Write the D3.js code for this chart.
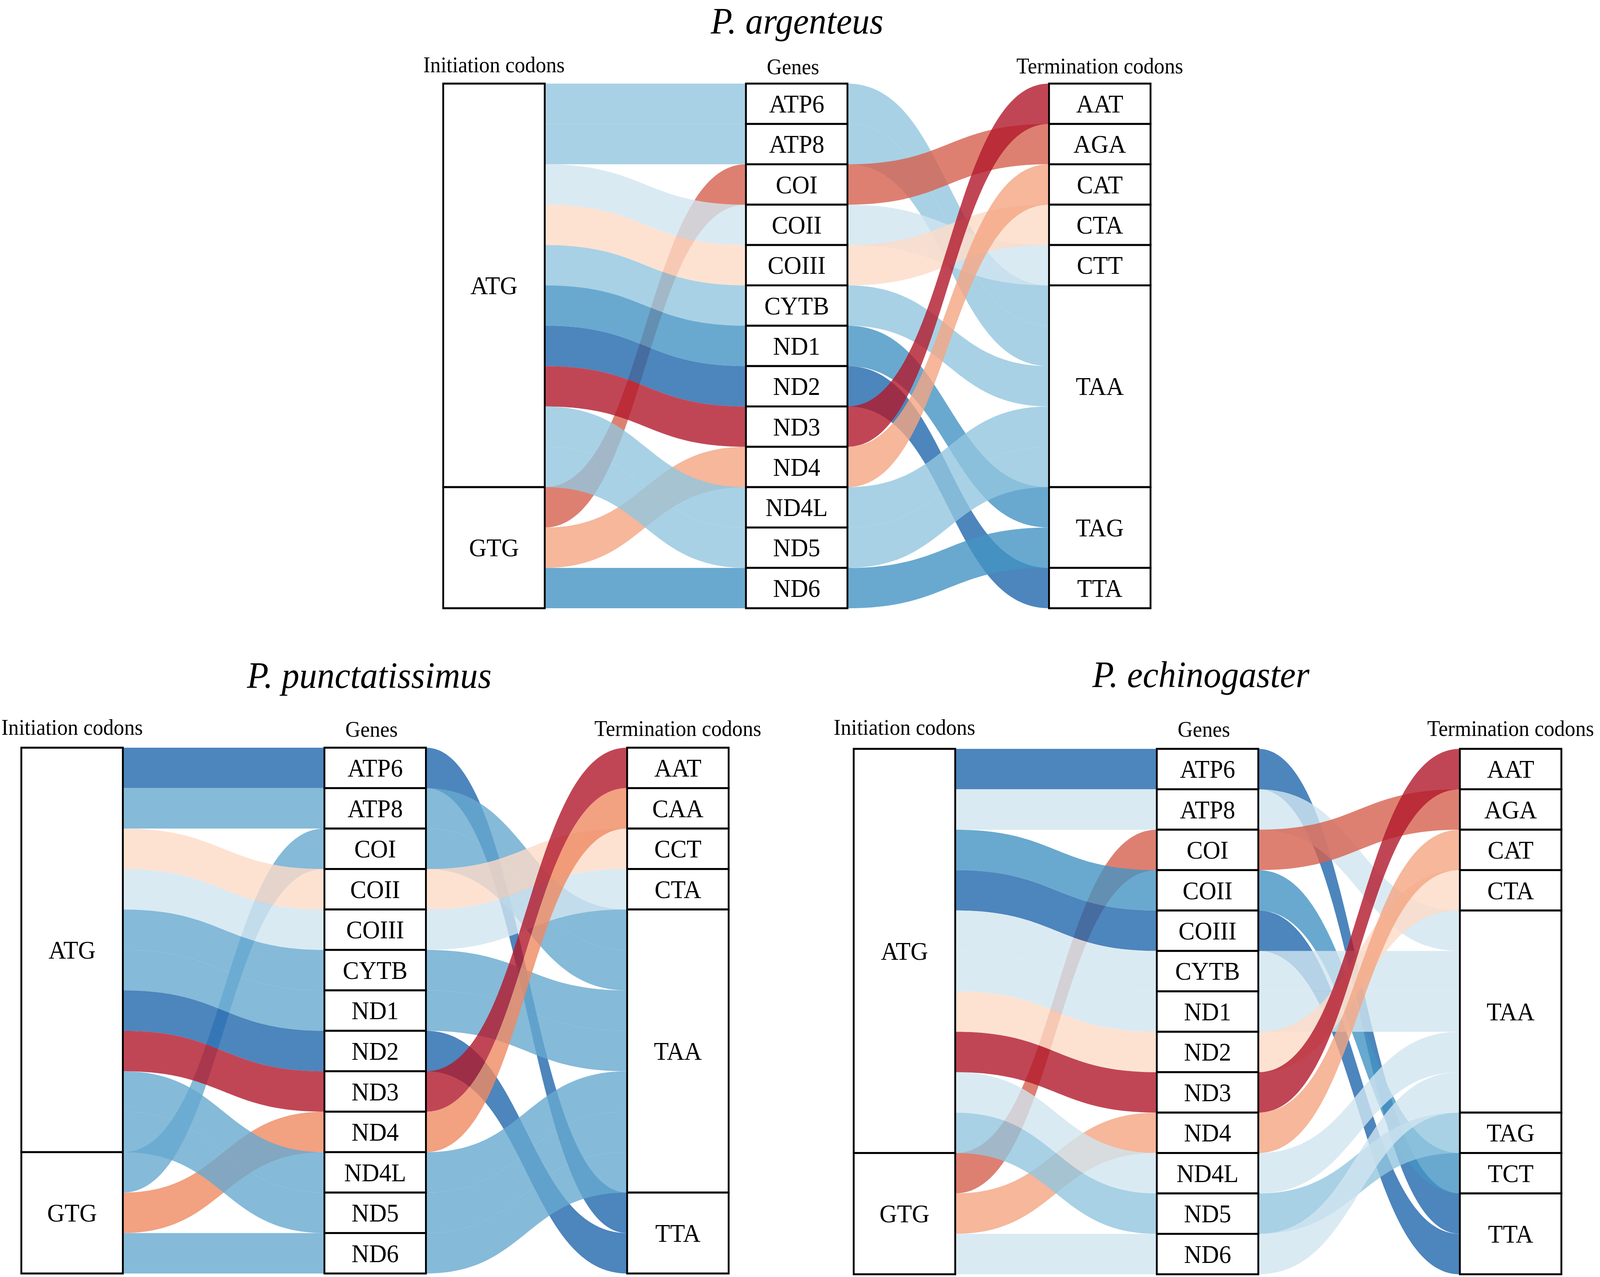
<!DOCTYPE html>
<html>
<head>
<meta charset="utf-8">
<script src="https://cdn.jsdelivr.net/npm/d3@7"></script>
<style>
  html, body { margin: 0; padding: 0; background: #fff; overflow: hidden; }
  svg { display: block; font-family: "Liberation Serif", "Times New Roman", serif; }
</style>
</head>
<body>
<div class="container"></div>
<script>
// ---- data ----
const genes = ["ATP6", "ATP8", "COI", "COII", "COIII", "CYTB", "ND1", "ND2", "ND3", "ND4", "ND4L", "ND5", "ND6"];
const headers = ["Initiation codons", "Genes", "Termination codons"];

const argenteusStart = ["ATG", "ATG", "GTG", "ATG", "ATG", "ATG", "ATG", "ATG", "ATG", "GTG", "ATG", "ATG", "GTG"];
const argenteusStop  = ["TAA", "TAA", "AGA", "CTT", "CTA", "TAA", "TAG", "TTA", "AAT", "CAT", "TAA", "TAA", "TAG"];

const punctatissimusStart = ["ATG", "ATG", "GTG", "ATG", "ATG", "ATG", "ATG", "ATG", "ATG", "GTG", "ATG", "ATG", "GTG"];
const punctatissimusStop  = ["TTA", "TAA", "TAA", "CCT", "CTA", "TAA", "TAA", "TTA", "AAT", "CAA", "TAA", "TAA", "TAA"];

const echinogasterStart = ["ATG", "ATG", "GTG", "ATG", "ATG", "ATG", "ATG", "ATG", "ATG", "GTG", "ATG", "ATG", "GTG"];
const echinogasterStop  = ["TTA", "TAA", "AGA", "TCT", "TTA", "TAA", "TAA", "CTA", "AAT", "CAT", "TAA", "TAG", "TAA"];

// ---- layout ----
const W = 4350, H = 3269;
const colW = 276;
const panels = [
  {title: "P. argenteus", start: argenteusStart, stop: argenteusStop,
   cols: [1205, 2028, 2852], top: 214, bottom: 1557, titleX: 2167, titleY: 86, headY: 188},
  {title: "P. punctatissimus", start: punctatissimusStart, stop: punctatissimusStop,
   cols: [58, 882, 1705], top: 1914, bottom: 3260, titleX: 1004, titleY: 1761, headY: 1884},
  {title: "P. echinogaster", start: echinogasterStart, stop: echinogasterStop,
   cols: [2321, 3145, 3969], top: 1917, bottom: 3262, titleX: 3265, titleY: 1759, headY: 1884}
];

// the drawing is laid out at 4350 x 3269 and stretched to fill the viewport
const svg = d3.select('.container')
  .append('svg')
  .attr('viewBox', `0 0 ${W} ${H}`)
  .attr('preserveAspectRatio', 'none')
  .style('width', '100vw')
  .style('height', '100vh');

svg.append('rect').attr('width', W).attr('height', H).attr('fill', '#fff');

function drawPanel(p) {
  const n = genes.length;
  const y = d3.scaleLinear().domain([0, n]).range([p.top, p.bottom]);

  // position of each gene inside an axis: by stratum, then gene order
  const stackOrder = (vals) => {
    const idx = d3.range(n).sort((a, b) => d3.ascending(vals[a], vals[b]) || a - b);
    const pos = new Array(n);
    idx.forEach((g, i) => pos[g] = i);
    return pos;
  };

  const axes = [
    {values: p.start, pos: stackOrder(p.start), sorted: true},
    {values: genes, pos: d3.range(n), sorted: false},
    {values: p.stop, pos: stackOrder(p.stop), sorted: true}
  ];

  const codons = Array.from(new Set(p.stop)).sort(d3.ascending);
  const color = d3.scaleOrdinal()
    .domain(codons)
    .range(d3.schemeRdBu[Math.max(3, codons.length)]);

  const g = svg.append('g');

  // flows, drawn segment by segment in gene order
  const flows = [];
  for (let s = 0; s < 2; s++) for (let i = 0; i < n; i++) flows.push({s, i});

  g.append('g')
    .selectAll('path')
    .data(flows)
    .join('path')
    .attr('d', d => {
      const x0 = p.cols[d.s] + colW, x1 = p.cols[d.s + 1];
      const xm = (x0 + x1) / 2;
      const a0 = y(axes[d.s].pos[d.i]), a1 = y(axes[d.s].pos[d.i] + 1);
      const b0 = y(axes[d.s + 1].pos[d.i]), b1 = y(axes[d.s + 1].pos[d.i] + 1);
      const path = d3.path();
      path.moveTo(x0, a0);
      path.bezierCurveTo(xm, a0, xm, b0, x1, b0);
      path.lineTo(x1, b1);
      path.bezierCurveTo(xm, b1, xm, a1, x0, a1);
      path.closePath();
      return path.toString();
    })
    .attr('fill', d => color(p.stop[d.i]))
    .attr('fill-opacity', 0.8);

  // strata boxes
  axes.forEach((ax, k) => {
    let strata;
    if (ax.sorted) {
      strata = d3.rollups(ax.values, v => v.length, v => v).sort((a, b) => d3.ascending(a[0], b[0]));
    } else {
      strata = ax.values.map(v => [v, 1]);
    }
    let off = 0;
    const boxes = strata.map(([name, count]) => {
      const b = {name, y0: off, y1: off + count};
      off += count;
      return b;
    });

    const sg = g.append('g');
    sg.selectAll('rect')
      .data(boxes)
      .join('rect')
      .attr('x', p.cols[k])
      .attr('y', d => y(d.y0))
      .attr('width', colW)
      .attr('height', d => y(d.y1) - y(d.y0))
      .attr('fill', '#fff')
      .attr('stroke', '#000')
      .attr('stroke-width', 5);

    sg.selectAll('text')
      .data(boxes)
      .join('text')
      .attr('x', p.cols[k] + colW / 2)
      .attr('y', d => (y(d.y0) + y(d.y1)) / 2)
      .attr('dy', '0.34em')
      .attr('text-anchor', 'middle')
      .attr('font-size', 66)
      .text(d => d.name);

    // column header
    g.append('text')
      .attr('x', p.cols[k] + colW / 2 + (k === 1 ? -10 : 0))
      .attr('y', p.headY + (k === 0 ? -3 : (k === 1 ? 2 : 0)))
      .attr('text-anchor', 'middle')
      .attr('font-size', 57)
      .text(headers[k]);
  });

  // title
  g.append('text')
    .attr('x', p.titleX)
    .attr('y', p.titleY)
    .attr('text-anchor', 'middle')
    .attr('font-size', 96)
    .attr('font-style', 'italic')
    .text(p.title);
}

panels.forEach(drawPanel);
</script>
</body>
</html>
